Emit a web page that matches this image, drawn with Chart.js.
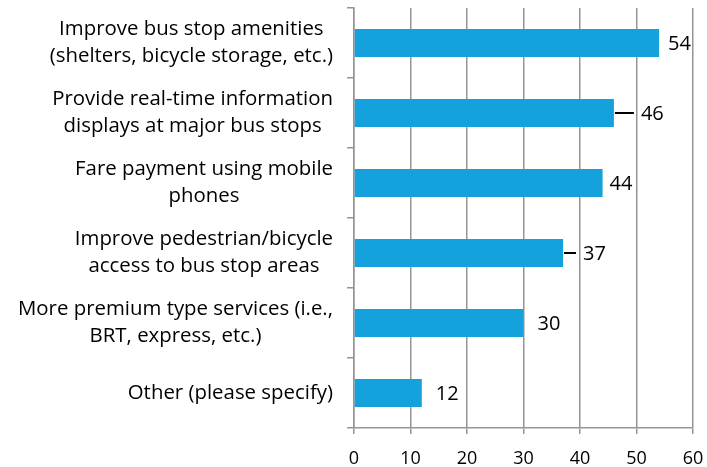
<!DOCTYPE html>
<html>
<head>
<meta charset="utf-8">
<style>
  html, body { margin: 0; padding: 0; background: #fff; }
  #chart { display: block; }
</style>
<script src="https://cdn.jsdelivr.net/npm/chart.js@4/dist/chart.umd.min.js"></script>
</head>
<body>
<canvas id="chart" width="707" height="467"></canvas>
<script>
// survey responses, percent
const categories = [
  ['Improve bus stop amenities', '(shelters, bicycle storage, etc.)'],
  ['Provide real-time information', 'displays at major bus stops'],
  ['Fare payment using mobile', 'phones'],
  ['Improve pedestrian/bicycle', 'access to bus stop areas'],
  ['More premium type services (i.e.,', 'BRT, express, etc.)'],
  ['Other (please specify)']
];
const values = [54, 46, 44, 37, 30, 12];
const xTicks = [0, 10, 20, 30, 40, 50, 60];

// how the value labels sit next to each bar
const labelGaps = [9, 27, 7, 20, 14, 14];
const leaderLines = [false, true, false, true, false, false];

const FONT = '"Open Sans", "DejaVu Sans", sans-serif';
const GRID = '#959595';

// category names: each block right-aligned to the axis, lines centred within it
const categoryLabels = {
  id: 'categoryLabels',
  afterDraw(chart) {
    const { ctx } = chart;
    const y = chart.scales.y;
    const lineH = 27;
    ctx.save();
    ctx.font = '20.4px ' + FONT;
    ctx.fillStyle = '#000';
    ctx.textAlign = 'center';
    ctx.textBaseline = 'middle';
    categories.forEach((lines, i) => {
      const cy = y.getPixelForValue(i);
      const w = Math.max(...lines.map(l => ctx.measureText(l).width));
      const cx = y.right - 21 - w / 2;
      lines.forEach((l, j) => {
        ctx.fillText(l, cx, cy + (j - (lines.length - 1) / 2) * lineH);
      });
    });
    ctx.restore();
  }
};

// value labels at the bar ends, some with a short leader line
const valueLabels = {
  id: 'valueLabels',
  afterDatasetsDraw(chart) {
    const { ctx } = chart;
    const meta = chart.getDatasetMeta(0);
    ctx.save();
    ctx.font = '20px ' + FONT;
    ctx.fillStyle = '#000';
    ctx.strokeStyle = '#000';
    ctx.lineWidth = 2;
    ctx.textAlign = 'left';
    ctx.textBaseline = 'middle';
    meta.data.forEach((bar, i) => {
      const tx = bar.x + labelGaps[i];
      if (leaderLines[i]) {
        ctx.beginPath();
        ctx.moveTo(bar.x + 1, bar.y);
        ctx.lineTo(tx - 7, bar.y);
        ctx.stroke();
      }
      ctx.fillText(String(values[i]), tx, bar.y + 1);
    });
    ctx.restore();
  }
};

new Chart(document.getElementById('chart'), {
  type: 'bar',
  data: {
    labels: categories.map(c => c.join(' ')),
    datasets: [{
      data: values,
      backgroundColor: '#15A1DB',
      borderWidth: 0,
      barPercentage: 0.4,
      categoryPercentage: 1
    }]
  },
  options: {
    indexAxis: 'y',
    responsive: false,
    animation: false,
    layout: { padding: { top: 8, right: 14, left: 0, bottom: 0 } },
    plugins: {
      legend: { display: false },
      tooltip: { enabled: false }
    },
    scales: {
      x: {
        min: 0,
        max: 60,
        afterBuildTicks: scale => { scale.ticks = xTicks.map(v => ({ value: v })); },
        afterFit: scale => {
          scale.height = 39;
          scale.paddingLeft = 0;
          scale.paddingRight = 0;
        },
        grid: { color: GRID, lineWidth: 1.5, tickLength: 6 },
        border: { color: GRID, width: 1.5 },
        ticks: {
          padding: 14,
          color: '#000',
          maxRotation: 0,
          font: { family: FONT, size: 18 }
        }
      },
      y: {
        afterFit: scale => { scale.width = 354; },
        grid: { drawOnChartArea: false, color: GRID, lineWidth: 1.5, tickLength: 7 },
        border: { color: GRID, width: 1.5 },
        ticks: { display: false }
      }
    }
  },
  plugins: [categoryLabels, valueLabels]
});
</script>
</body>
</html>
